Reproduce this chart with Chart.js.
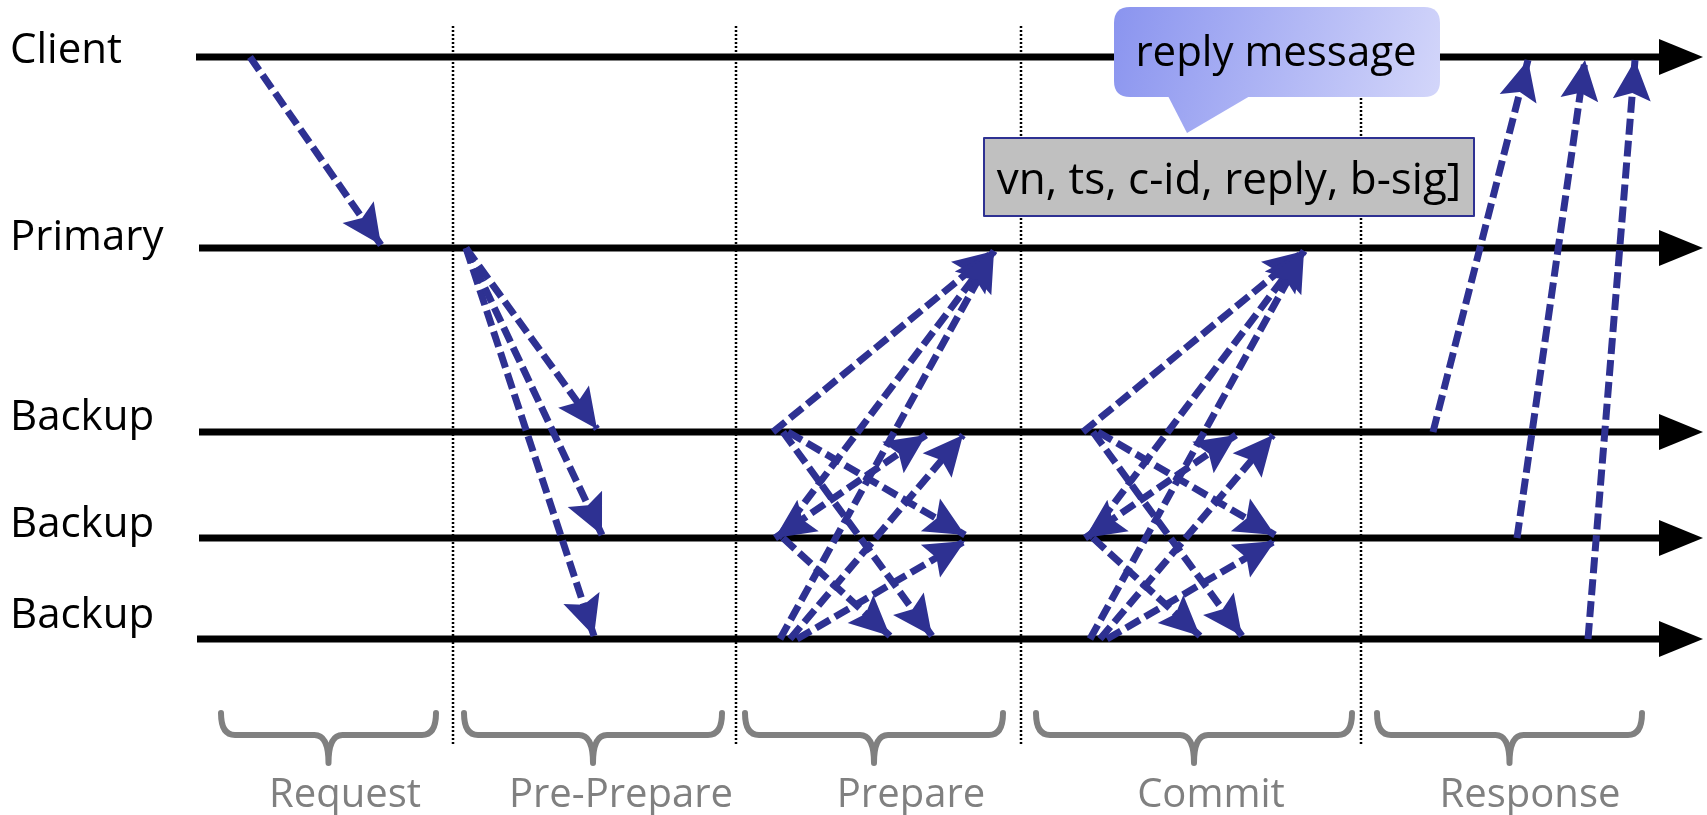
<!DOCTYPE html>
<html>
<head>
<meta charset="utf-8">
<title>PBFT</title>
<script src="https://cdn.jsdelivr.net/npm/chart.js@4.4.1/dist/chart.umd.min.js"></script>
<style>
  html, body { margin: 0; padding: 0; background: #fff; }
  #pbftChart { display: block; }
</style>
</head>
<body>
<canvas id="pbftChart" width="1707" height="815"></canvas>
<script>
// lanes (level = y in layout units, 0 at top)
var laneNames = ['Client', 'Primary', 'Backup', 'Backup', 'Backup'];
var laneLevel = [57, 248, 432, 538, 639];
var laneFrom = [196, 199, 199, 199, 197];
var laneTo = 1660;

// phases
var phaseNames = ['Request', 'Pre-Prepare', 'Prepare', 'Commit', 'Response'];
var phaseCuts = [453, 736, 1021, 1361];
var phaseFrom = [221, 464, 745, 1036, 1377];
var phaseTo = [436, 722, 1003, 1352, 1642];
var phaseLabelAt = [345, 621, 911, 1211, 1530];

// messages: sender lane, receiver lane, send time, arrival time
var msgFrom   = [0, 1, 1, 1,  2, 2, 2, 3, 3, 3, 4, 4, 4,  2, 2, 2, 3, 3, 3, 4, 4, 4,  2, 3, 4];
var msgTo     = [1, 2, 3, 4,  1, 3, 4, 1, 2, 4, 1, 2, 3,  1, 3, 4, 1, 2, 4, 1, 2, 3,  0, 0, 0];
var msgSend   = [250, 466, 466, 466,
                 773, 788, 783, 778, 775, 783, 780, 790, 797,
                 1083, 1098, 1093, 1088, 1085, 1093, 1090, 1100, 1107,
                 1433, 1517, 1588];
var msgArrive = [381, 597, 602, 594,
                 994, 965, 932, 994, 926, 890, 994, 963, 965,
                 1304, 1275, 1242, 1304, 1236, 1200, 1304, 1273, 1275,
                 1528, 1585, 1635];
// the B2 <-> B1 message is drawn with a head on both ends
var msgBothHeads = [0, 0, 0, 0,  0, 0, 0, 0, 1, 0, 0, 0, 0,  0, 0, 0, 0, 1, 0, 0, 0, 0,  0, 0, 0];

var replyTitle = 'reply message';
var replyBody = 'vn, ts, c-id, reply, b-sig]';

var BLUE = '#2e3192';
var FAMILY = '"Open Sans", "Noto Sans", sans-serif';

var datasets = [];
for (var i = 0; i < phaseCuts.length; i++) {
  datasets.push({
    kind: 'cut',
    data: [{x: phaseCuts[i], y: 26}, {x: phaseCuts[i], y: 744}],
    borderColor: '#000', borderWidth: 2.5, borderDash: [2, 2], order: 3
  });
}
for (var i = 0; i < laneNames.length; i++) {
  datasets.push({
    kind: 'lane', lane: i,
    data: [{x: laneFrom[i], y: laneLevel[i]}, {x: laneTo, y: laneLevel[i]}],
    borderColor: '#000', borderWidth: 7, order: 2
  });
}
for (var i = 0; i < msgFrom.length; i++) {
  var y0 = laneLevel[msgFrom[i]], y1 = laneLevel[msgTo[i]];
  var dir = y1 > y0 ? 1 : -1;
  datasets.push({
    kind: 'msg', both: msgBothHeads[i] === 1,
    data: [{x: msgSend[i], y: y0}, {x: msgArrive[i], y: y1 - 3 * dir}],
    borderColor: BLUE, borderWidth: 7, borderDash: [16, 6], order: 1
  });
}

var labelDy = [6, 2, -2, -1, -11];

function arrowHead(ctx, fx, fy, tx, ty, len, half, notch) {
  var a = Math.atan2(ty - fy, tx - fx);
  var c = Math.cos(a), s = Math.sin(a);
  ctx.beginPath();
  ctx.moveTo(tx, ty);
  ctx.lineTo(tx - len * c - half * s, ty - len * s + half * c);
  ctx.lineTo(tx - (len - notch) * c, ty - (len - notch) * s);
  ctx.lineTo(tx - len * c + half * s, ty - len * s - half * c);
  ctx.closePath();
  ctx.fill();
}

function roundRect(ctx, x, y, w, h, r) {
  ctx.beginPath();
  ctx.moveTo(x + r, y);
  ctx.lineTo(x + w - r, y);
  ctx.quadraticCurveTo(x + w, y, x + w, y + r);
  ctx.lineTo(x + w, y + h - r);
  ctx.quadraticCurveTo(x + w, y + h, x + w - r, y + h);
  ctx.lineTo(x + r, y + h);
  ctx.quadraticCurveTo(x, y + h, x, y + h - r);
  ctx.lineTo(x, y + r);
  ctx.quadraticCurveTo(x, y, x + r, y);
  ctx.closePath();
}

var decor = {
  id: 'pbftDecor',
  afterDatasetsDraw: function(chart) {
    var ctx = chart.ctx;
    var sx = chart.scales.x, sy = chart.scales.y;
    var X = function(v) { return sx.getPixelForValue(v); };
    var Y = function(v) { return sy.getPixelForValue(v); };
    ctx.save();

    // lane arrow heads + names
    chart.data.datasets.forEach(function(ds, i) {
      var pts = chart.getDatasetMeta(i).data;
      if (ds.kind === 'lane') {
        ctx.fillStyle = '#000';
        arrowHead(ctx, pts[0].x, pts[0].y, pts[1].x + 43, pts[1].y, 44, 18, 0);
        ctx.font = '42px ' + FAMILY;
        ctx.textAlign = 'left';
        ctx.textBaseline = 'alphabetic';
        ctx.fillText(laneNames[ds.lane], X(10), Y(laneLevel[ds.lane] + labelDy[ds.lane]));
      }
    });
    // message arrow heads
    chart.data.datasets.forEach(function(ds, i) {
      if (ds.kind !== 'msg') return;
      var pts = chart.getDatasetMeta(i).data;
      ctx.fillStyle = BLUE;
      arrowHead(ctx, pts[0].x, pts[0].y, pts[1].x, pts[1].y, 40, 19, 7);
      if (ds.both) arrowHead(ctx, pts[1].x, pts[1].y, pts[0].x, pts[0].y, 40, 19, 7);
    });

    // braces under each phase
    ctx.strokeStyle = '#808080';
    ctx.lineWidth = 6;
    ctx.lineCap = 'round';
    ctx.lineJoin = 'round';
    for (var k = 0; k < phaseNames.length; k++) {
      var x0 = X(phaseFrom[k]), x1 = X(phaseTo[k]), cx = (x0 + x1) / 2;
      var top = Y(713), bar = Y(735), tip = Y(763), r = 14;
      ctx.beginPath();
      ctx.moveTo(x0, top);
      ctx.quadraticCurveTo(x0, bar, x0 + r, bar);
      ctx.lineTo(cx - r, bar);
      ctx.quadraticCurveTo(cx, bar, cx, tip);
      ctx.quadraticCurveTo(cx, bar, cx + r, bar);
      ctx.lineTo(x1 - r, bar);
      ctx.quadraticCurveTo(x1, bar, x1, top);
      ctx.stroke();
      ctx.fillStyle = '#808080';
      ctx.font = '40px ' + FAMILY;
      ctx.textAlign = 'center';
      ctx.fillText(phaseNames[k], X(phaseLabelAt[k]), Y(807));
    }

    // reply box
    var bx = X(984), by = Y(138), bw = X(1474) - bx, bh = Y(216) - by;
    ctx.fillStyle = '#c0c0c0';
    ctx.fillRect(bx, by, bw, bh);
    ctx.strokeStyle = BLUE;
    ctx.lineWidth = 2;
    ctx.strokeRect(bx, by, bw, bh);
    ctx.fillStyle = '#000';
    ctx.font = '44px ' + FAMILY;
    ctx.textAlign = 'center';
    ctx.fillText(replyBody, X(1229), Y(194));

    // callout
    var cx0 = X(1114), cy0 = Y(7), cw = X(1440) - cx0, ch = Y(97) - cy0;
    var g = ctx.createLinearGradient(cx0, cy0, cx0 + cw, cy0 + ch);
    g.addColorStop(0, '#8a94ef');
    g.addColorStop(1, '#d3d6fa');
    ctx.fillStyle = g;
    roundRect(ctx, cx0, cy0, cw, ch, 16);
    ctx.fill();
    ctx.beginPath();
    ctx.moveTo(X(1168), Y(96));
    ctx.lineTo(X(1187), Y(133));
    ctx.lineTo(X(1250), Y(96));
    ctx.closePath();
    ctx.fill();
    ctx.fillStyle = '#000';
    ctx.font = '42px ' + FAMILY;
    ctx.fillText(replyTitle, X(1276), Y(66));

    ctx.restore();
  }
};

var pbftChart = new Chart(document.getElementById('pbftChart').getContext('2d'), {
  type: 'scatter',
  data: { datasets: datasets },
  options: {
    responsive: false,
    animation: false,
    devicePixelRatio: 1,
    showLine: true,
    layout: { padding: 0 },
    elements: { point: { radius: 0, hoverRadius: 0 }, line: { tension: 0, fill: false } },
    scales: {
      x: { type: 'linear', min: 0, max: 1707, display: false },
      y: { type: 'linear', min: 0, max: 815, reverse: true, display: false }
    },
    plugins: { legend: { display: false }, tooltip: { enabled: false } }
  },
  plugins: [decor]
});
</script>
</body>
</html>
